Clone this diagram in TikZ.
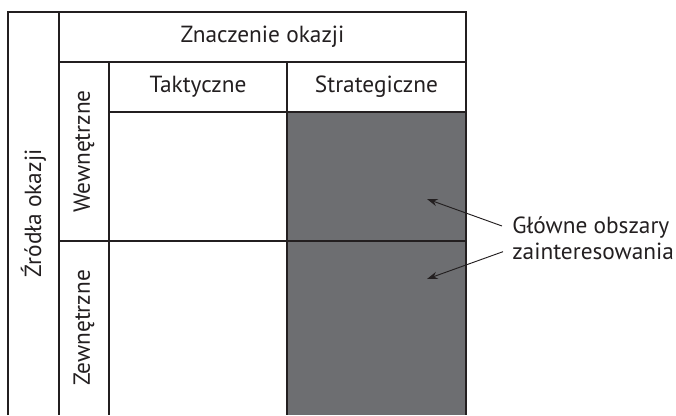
\documentclass[tikz,border=0pt]{standalone}
\usepackage{fontspec}
\setmainfont{PT Sans}
\usetikzlibrary{arrows.meta,positioning}
\definecolor{ink}{HTML}{231F20}
\definecolor{cellgray}{HTML}{6D6E71}

\begin{document}
\begin{tikzpicture}
	[x=0.75pt,y=-0.75pt,
	grid/.style={line width=0.8pt,draw=ink},
	label/.style={font=\fontsize{17.5}{21}\selectfont,text=ink,inner sep=0pt},
	side/.style={label,rotate=90},
	pointer/.style={-{Stealth[length=8pt,width=5.5pt]},line width=0.7pt,draw=ink},
	]
	\useasboundingbox (0,0) rectangle (676,415);
	\fill[cellgray] (287,112) rectangle (466,415);
	% siatka tabeli (bez dolnej krawedzi)
	\draw[grid] (8,415) -- (8,12) -- (466,12) -- (466,415);
	\draw[grid] (59,12) -- (59,415);
	\draw[grid] (109,62) -- (109,415);
	\draw[grid] (287,62) -- (287,415);
	\draw[grid] (59,62) -- (466,62);
	\draw[grid] (109,112) -- (466,112);
	\draw[grid] (59,241) -- (466,241);
	% naglowki
	\node[label] (znaczenie) at (262.5,37) {Znaczenie okazji};
	\node[label] (taktyczne) at (198,87) {Taktyczne};
	\node[label] (strategiczne) at (376.5,87) {Strategiczne};
	\node[side] (zrodla) at (33.5,213.5) {Źródła okazji};
	\node[side] (wewnetrzne) at (84,151.5) {Wewnętrzne};
	\node[side] (zewnetrzne) at (84,328) {Zewnętrzne};
	% opis obszarow
	\node[label,anchor=base west] (glowne) at (512,233) {Główne obszary};
	\node[label,below=20pt of glowne.base west,anchor=base west] (zaint) {zainteresowania};
	\coordinate (tip1) at (427,199);
	\coordinate (tip2) at (427,279);
	\draw[pointer] ([shift={(-10,-7)}]glowne.base west) -- (tip1);
	\draw[pointer] ([shift={(-9,-8)}]zaint.base west) -- (tip2);
\end{tikzpicture}
\end{document}
